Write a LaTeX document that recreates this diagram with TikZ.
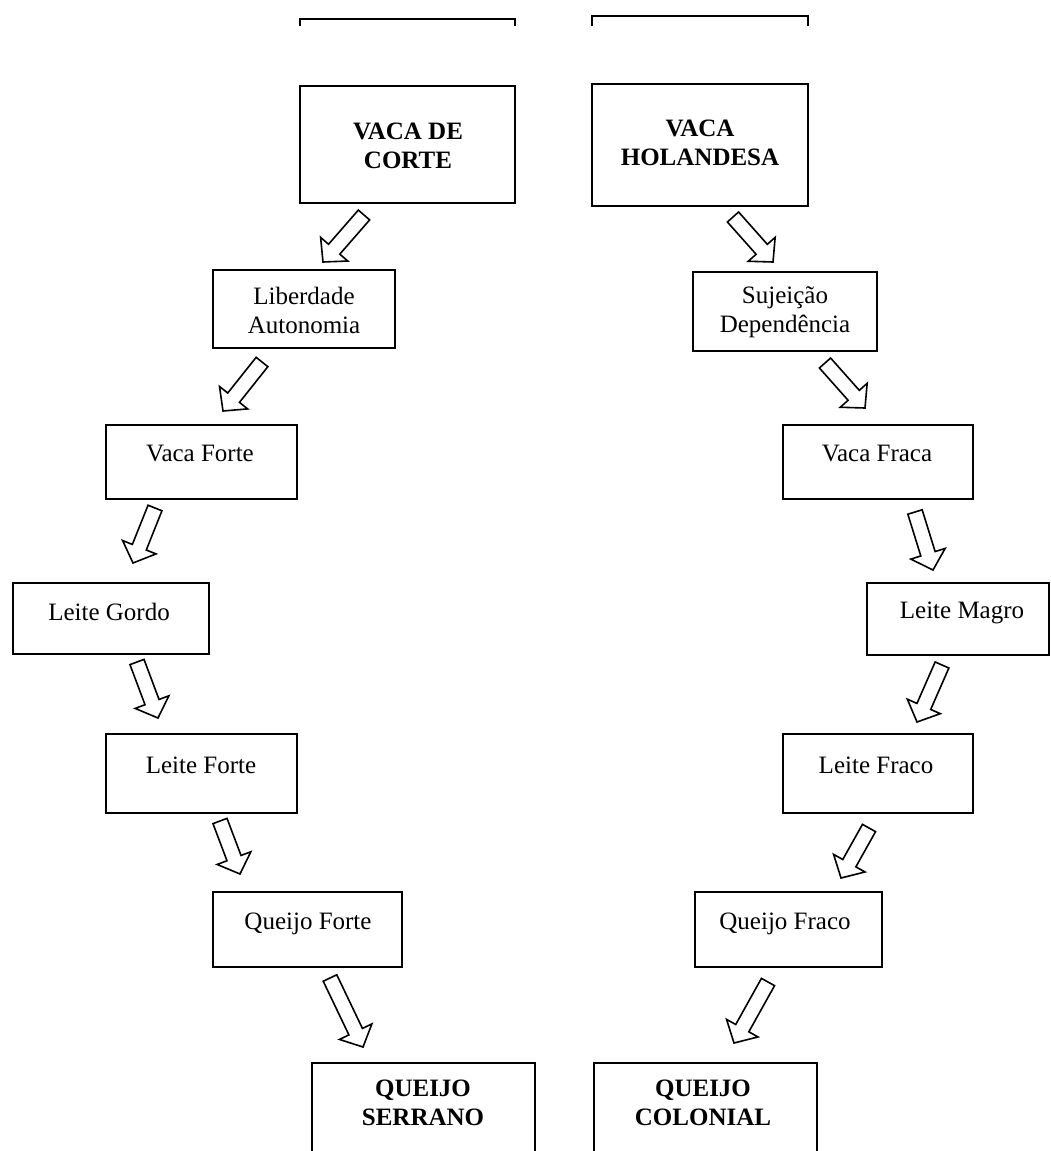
\documentclass[tikz,border=0pt]{standalone}
\usepackage{fontspec}
\setmainfont{Liberation Serif}
\usetikzlibrary{calc}
\tikzset{
  bx/.style={draw=black, line width=2.2pt, inner sep=0pt},
  lbl/.style={font=\fontsize{25}{29}\selectfont, align=center, inner sep=0pt},
  one/.style={lbl, text height=17pt, text depth=0pt},
  boldlbl/.style={font=\fontsize{25}{29}\selectfont\bfseries, align=center, inner sep=0pt},
  barrow/.style={draw=black, line width=1.6pt, fill=white, line join=miter},
}
\newcommand{\mkbox}[5]{%
  \pgfmathsetmacro{\bw}{#4-#2}%
  \pgfmathsetmacro{\bh}{#5-#3}%
  \pgfmathsetmacro{\bcx}{(#2+#4)/2}%
  \pgfmathsetmacro{\bcy}{(#3+#5)/2}%
  \node[bx, minimum width=\bw pt, minimum height=\bh pt] (#1) at (\bcx,\bcy) {};}
\newcommand{\blockarrow}[2]{%
  \coordinate (hb) at ($(#2)!17pt!(#1)$);
  \draw[barrow] ($(#1)!7.5pt!90:(#2)$) -- ($(hb)!7.5pt!-90:(#1)$) -- ($(hb)!18pt!-90:(#1)$) -- (#2) -- ($(hb)!18pt!90:(#1)$) -- ($(hb)!7.5pt!90:(#1)$) -- ($(#1)!7.5pt!-90:(#2)$) -- cycle;}
\begin{document}
\begin{tikzpicture}[x=1pt, y=-1pt]
\useasboundingbox (0,0) rectangle (1051,1151);
\clip (0,0) rectangle (1051,1151);
\fill[white] (0,0) rectangle (1051,1151);

% partial boxes at the top
\draw[bx] (300,26) -- (300,19) -- (515,19) -- (515,26);
\draw[bx] (592,26) -- (592,16) -- (808,16) -- (808,26);

% boxes
\mkbox{vc}{300}{86}{515}{203}
\mkbox{vh}{592}{84}{808}{206}
\mkbox{lib}{213}{270}{395}{348}
\mkbox{suj}{693}{272}{877}{351}
\mkbox{vfo}{106}{425}{297}{499}
\mkbox{vfr}{783}{425}{973}{499}
\mkbox{lg}{13}{583}{209}{654}
\mkbox{lm}{867}{583}{1049}{655}
\mkbox{lfo}{106}{734}{297}{813}
\mkbox{lfr}{783}{734}{973}{813}
\mkbox{qfo}{213}{892}{402}{967}
\mkbox{qfr}{695}{892}{882}{967}
\mkbox{qs}{312}{1063}{535}{1200}
\mkbox{qc}{594}{1063}{817}{1200}

% texts
\node[boldlbl] (t-vc) at (408,146) {VACA DE\\CORTE};
\node[boldlbl] (t-vh) at (700,143) {VACA\\HOLANDESA};
\node[lbl] (t-lib) at (304,310) {Liberdade\\Autonomia};
\node[lbl] (t-suj) at (785,312) {Sujeição\\Dependência};
\node[one] (t-vfo) at (200,453) {Vaca Forte};
\node[one] (t-vfr) at (877,453) {Vaca Fraca};
\node[one] (t-lg) at (109,612) {Leite Gordo};
\node[one] (t-lm) at (962,610) {Leite Magro};
\node[one] (t-lfo) at (201,765) {Leite Forte};
\node[one] (t-lfr) at (876,765) {Leite Fraco};
\node[one] (t-qfo) at (308,921) {Queijo Forte};
\node[one] (t-qfr) at (785,921) {Queijo Fraco};
\node[boldlbl] (t-qs) at (423,1103) {QUEIJO\\SERRANO};
\node[boldlbl] (t-qc) at (703,1103) {QUEIJO\\COLONIAL};

% arrow end points
\coordinate (a1s) at (364,215);  \coordinate (a1e) at (323,262);
\coordinate (a2s) at (733,217);  \coordinate (a2e) at (773,262);
\coordinate (a3s) at (262,362);  \coordinate (a3e) at (223,411);
\coordinate (a4s) at (825,363);  \coordinate (a4e) at (865,408);
\coordinate (a5s) at (155,508);  \coordinate (a5e) at (133,563);
\coordinate (a6s) at (915,512);  \coordinate (a6e) at (933,570);
\coordinate (a7s) at (137,662);  \coordinate (a7e) at (158,718);
\coordinate (a8s) at (942,665);  \coordinate (a8e) at (917,722);
\coordinate (a9s) at (220,821);  \coordinate (a9e) at (240,874);
\coordinate (a10s) at (869,828); \coordinate (a10e) at (841,878);
\coordinate (a11s) at (330,978); \coordinate (a11e) at (363,1047);
\coordinate (a12s) at (768,982); \coordinate (a12e) at (734,1043);

\blockarrow{a1s}{a1e}
\blockarrow{a2s}{a2e}
\blockarrow{a3s}{a3e}
\blockarrow{a4s}{a4e}
\blockarrow{a5s}{a5e}
\blockarrow{a6s}{a6e}
\blockarrow{a7s}{a7e}
\blockarrow{a8s}{a8e}
\blockarrow{a9s}{a9e}
\blockarrow{a10s}{a10e}
\blockarrow{a11s}{a11e}
\blockarrow{a12s}{a12e}
\end{tikzpicture}
\end{document}
